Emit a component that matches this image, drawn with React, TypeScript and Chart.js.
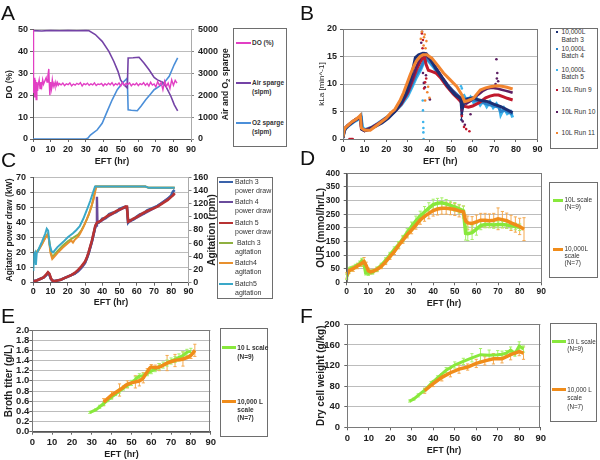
import React, { useEffect, useRef } from 'react';
import { Chart, registerables } from 'chart.js';

Chart.register(...registerables);

const FONT = '"Liberation Sans", Arial, Helvetica, sans-serif';
const INK = '#1e1e1e';
const GRID = '#bcbcbc';
Chart.defaults.font.family = FONT;

// ===================== DATA =====================
// Panel A: DO and sparge rates
const doTime = [0, 0.3, 0.6, 1, 1.4, 1.8, 2.2, 2.6, 3, 3.5, 4, 4.5, 5, 5.5, 6, 6.5, 7, 7.5, 8, 8.5, 9, 9.3, 9.6, 10, 10.5, 11, 11.5, 12, 12.5, 13, 13.5, 14, 14.5,
  15, 16, 17, 18, 19, 20, 21, 22, 23, 24, 25, 26, 27, 28, 29, 30, 31, 32, 33, 34, 35, 36, 37, 38, 39, 40, 41, 42, 43, 44, 45, 46, 47, 48, 49, 50,
  51, 52, 53, 54, 55, 56, 57, 58, 59, 60, 61, 62, 63, 64, 65, 66, 67, 68, 69, 70, 71, 72, 73, 74, 75, 76, 77, 78, 79, 80, 81, 82];
const doValues = [50, 21, 28, 19, 27, 18, 26, 22, 25, 27, 23, 26, 24, 27, 25, 26, 27, 28, 26, 29, 32, 25, 20, 26, 23, 27, 24, 25.5, 24, 26, 24.5, 25.8, 24.6,
  25.3, 24.7, 25.5, 24.4, 25.2, 24.8, 25.6, 24.3, 25.1, 24.6,
  25.4, 24.9, 25.7, 24.2, 25.3, 24.8, 25.5, 24.5, 25.2, 24.7,
  25.6, 24.4, 25.1, 24.9, 25.4, 24.3, 25.2, 24.6, 25.5, 24.8,
  25.7, 24.4, 25.3, 24.7, 25.6, 24.2, 25.8, 24.5, 25.4, 24.9,
  25.6, 24.3, 25.2, 24.7, 25.5, 24.4, 25.3, 24.8, 25.7, 24.5,
  25.4, 24.2, 25.9, 24.6, 25.1, 23.8, 26.2, 24.5, 25.8, 22.5,
  26.5, 24.0, 25.5, 23.0, 27.0, 24.5, 26.8, 25.5];
const airTime = [0, 5, 10, 15, 20, 25, 30, 31.7, 35.5, 39.4, 43.2, 46, 48.4, 49.9, 51.8, 53.7, 54.2, 57, 60.4, 63.2, 66.1, 69, 70.9, 73.8, 75.7, 78.6, 80.5, 82.4];
const airValues = [4950, 4930, 4960, 4940, 4960, 4940, 4960, 4950, 4770, 4460, 4000, 3550, 3090, 2700, 2480, 2330, 3700, 3710, 3730, 3470, 3160, 2810, 2700, 2600, 2400, 1940, 1560, 1280];
const o2Time = [0, 10, 20, 30, 31.2, 32.7, 34.5, 36.5, 39.4, 42.2, 45.1, 48, 50.8, 53.7, 54.2, 56, 59.4, 61.5, 64.2, 67, 69, 71.9, 74.7, 77.6, 80.4, 82.4];
const o2Values = [0, 0, 0, 0, 30, 180, 290, 410, 720, 1250, 1790, 2250, 2550, 2780, 1330, 1310, 1290, 1500, 1790, 2050, 2250, 2400, 2570, 2860, 3390, 3700];

// Panel B: kLa
const b3Time = [0, 0.5, 1, 2, 4, 6, 7.5, 8.2, 8.6, 10, 12, 15, 18, 21, 24, 27, 29, 31, 32.5, 33.5, 35, 37, 38.5, 40, 43, 46, 49, 52, 54.5, 55, 56, 58, 60, 62, 64, 67, 70, 73, 76, 78.5];
const b3Kla = [0.2, 1.2, 1.8, 2.4, 3.0, 3.6, 3.9, 4.0, 1.8, 1.5, 1.7, 2.3, 2.9, 3.8, 5.0, 6.6, 8.2, 10.6, 13.0, 14.8, 15.3, 15.6, 15.5, 14.8, 12.8, 11.0, 9.3, 8.0, 7.3, 5.0, 7.0, 7.3, 7.5, 7.2, 7.0, 6.8, 6.3, 5.9, 5.3, 4.8];
const b4Time = [0, 0.5, 1, 3, 5, 7, 8.3, 8.8, 10, 13, 16, 20, 24, 27, 30, 32, 34, 36, 37.5, 39, 42, 45, 48, 51, 54, 55.5, 58, 61, 64, 67, 70, 72, 73, 75, 77, 78.5];
const b4Kla = [0.3, 1.4, 1.9, 2.6, 3.2, 3.7, 4.3, 2.0, 1.6, 2.0, 2.7, 3.8, 5.1, 6.4, 8.3, 10.0, 11.8, 13.0, 14.3, 14.6, 13.2, 11.6, 10.0, 8.7, 7.6, 7.2, 7.4, 7.0, 6.7, 6.3, 6.0, 5.8, 5.0, 5.2, 4.8, 4.5];
const b5Time = [0, 0.5, 1, 3, 5, 7, 8.5, 9, 10, 13, 16, 20, 24, 27, 30, 32, 34, 36, 37.5, 39, 42, 45, 48, 51, 54, 56, 57.5, 59, 60.5, 62, 63.5, 65, 66.5, 68, 69.5, 71, 72.5, 73, 74.5, 76, 77.5, 78.5];
const b5Kla = [0.2, 1.3, 1.8, 2.5, 3.1, 3.5, 3.8, 2.2, 1.7, 2.1, 2.8, 3.9, 5.0, 6.2, 7.8, 9.5, 11.2, 12.6, 14.0, 14.4, 13.0, 11.4, 9.9, 8.6, 7.5, 7.9, 6.8, 7.6, 6.6, 7.3, 6.2, 7.0, 5.9, 6.8, 5.7, 6.4, 5.5, 4.4, 5.6, 4.6, 5.0, 3.9];
const r9Time = [0, 0.5, 1, 3, 5, 7, 8, 8.5, 10, 13, 16, 20, 24, 27, 30, 32, 34, 36, 37.5, 38.5, 39.5, 41, 43, 45, 48, 51, 53, 54.5, 55.5, 58, 60, 63, 66, 68, 70, 72, 74, 76, 78.5];
const r9Kla = [0.3, 1.5, 2.0, 2.7, 3.3, 3.8, 4.0, 1.9, 1.5, 2.0, 2.7, 3.8, 5.0, 6.4, 8.5, 10.5, 12.6, 14.2, 15.2, 13.5, 12.5, 12.3, 12.0, 11.2, 9.6, 8.2, 7.4, 6.8, 6.0, 5.8, 6.0, 6.6, 7.5, 7.8, 8.0, 8.0, 7.7, 7.4, 7.1];
const r10Time = [0, 0.5, 1, 3, 5, 7, 8, 8.5, 10, 13, 16, 20, 24, 27, 30, 32, 34, 36, 38, 40, 43, 46, 49, 52, 54.5, 55.5, 57, 59, 61, 63, 65, 67, 69, 71, 73, 75, 77, 78.5];
const r10Kla = [0.2, 1.4, 1.9, 2.6, 3.2, 3.7, 3.9, 1.8, 1.5, 2.0, 2.7, 3.8, 5.0, 6.5, 8.6, 10.8, 13.2, 15.0, 15.3, 14.6, 13.0, 11.2, 9.5, 8.2, 7.4, 6.5, 6.4, 6.9, 7.6, 8.2, 8.8, 9.2, 9.3, 9.2, 9.0, 8.8, 8.6, 8.4];
const r11Time = [0, 0.5, 1, 2, 4, 6, 7, 8, 8.5, 10, 12.6, 16, 20, 22, 24, 26.5, 28, 29.6, 31, 32.7, 34, 35.7, 37, 38.8, 41.1, 44, 46.5, 49.5, 52.7, 55, 56.3, 58, 60.4, 62, 63.5, 66, 68.1, 71.2, 73.5, 75.8, 78.5];
const r11Kla = [0.3, 1.6, 2.0, 2.4, 3.1, 3.6, 3.9, 4.3, 2.0, 1.6, 1.6, 2.6, 3.8, 4.7, 5.4, 7.1, 8.4, 10.1, 11.6, 13.2, 14.2, 15.0, 15.3, 15.3, 14.7, 13.3, 12.0, 10.8, 9.5, 8.0, 6.8, 7.0, 7.4, 8.2, 8.9, 9.3, 9.5, 9.7, 9.6, 9.4, 9.1];
// scattered outlier readings
const r11OutTime = [36, 36.5, 37, 37.3, 37.8, 38.2, 38.6, 39, 39.4, 40, 37.5, 38];
const r11OutKla = [18.2, 19.5, 20, 17, 19, 16.5, 17.8, 8.5, 9.5, 7.5, 18.5, 7];
const r9OutTime = [3, 3.5, 4, 4.5, 36.5, 37, 37.5, 38, 38.5, 55, 56, 57, 58.5, 36.8];
const r9OutKla = [0, 0, 0, 0, 19.2, 18, 9.2, 10.3, 11, 4.2, 2.2, 1.8, 1.4, 16.5];
const r10OutTime = [36.2, 37, 37.4, 37.9, 38.4, 40.2, 55, 55.4, 56.4, 59, 71, 71.4, 71.2, 71.8, 70.6, 36.6];
const r10OutKla = [17.5, 12, 10.2, 9.4, 11.6, 7.2, 5.2, 3.2, 2.6, 4.5, 14.5, 12, 11, 10.5, 10, 19.5];
const b5OutTime = [37, 37.1, 37.2, 37.3, 36.9, 54.6, 55, 37.2];
const b5OutKla = [5.2, 3.1, 1.2, 0, 7, 9.6, 9.2, 2.0];
const b3OutTime = [55, 55.3, 54.8];
const b3OutKla = [4.5, 6, 3.5];

// Panel C: agitator power draw (kW) and agitation (rpm)
const pow5Time = [0, 2, 4, 6, 7.5, 8.5, 9.3, 10.2, 11, 12, 14, 16, 18, 20, 22, 24, 26, 28, 30, 31, 32, 33, 34, 35, 36, 37, 38, 39, 40, 42, 44, 46, 48, 50, 52, 53.5, 54.3, 55, 56, 58, 60, 62, 64, 66, 68, 70, 72, 74, 76, 78, 80, 81, 82];
const pow5Values = [1, 1.5, 2.5, 3.5, 5.5, 7, 6, 3, 1.5, 1, 1.5, 2, 3, 4, 5, 6.5, 8.5, 11, 14, 16.5, 20, 24, 28, 33, 38, 40, 40.5, 41, 42, 43.5, 45, 46, 47.5, 48.5, 49.5, 50.5, 50.5, 40.5, 41, 42.5, 43.5, 45, 46.5, 47.5, 48.5, 49.5, 50.5, 52, 53.5, 55, 57, 58, 59.5];
const pow3Values = [1, 1.5, 2.5, 3.5, 5, 6.5, 5.5, 2.5, 1.5, 1, 1.5, 2, 3, 4, 5, 6, 8, 10.5, 13.5, 16, 19.5, 23.5, 27.5, 32.5, 37.5, 39.5, 40, 41, 42.5, 43, 45.5, 46.5, 47, 49, 50, 50.5, 50, 40, 41.5, 42, 44, 45.5, 46, 48, 49, 50, 51, 52.5, 54, 55.5, 58, 60.5, 61.5];
const pow4Time = [0, 2, 4, 6, 7.5, 8.5, 9.3, 10.2, 11, 12, 14, 16, 18, 20, 22, 24, 26, 28, 30, 32, 34, 35, 36, 36.7, 36.9, 37.2, 38, 40, 44, 48, 52, 54.3, 55, 58, 62, 66, 70, 74, 78, 82];
const pow4Values = [1, 1.5, 2.5, 3.5, 5, 6.5, 5.5, 2.5, 1.5, 1, 1.5, 2, 3, 4, 5, 6, 7.5, 10, 13, 19, 27, 32, 37, 38, 57, 40, 40, 41.5, 44.5, 47, 49.5, 50, 40, 42, 44.5, 47, 49.5, 52.5, 56, 59];
const agit5Time = [0, 0.5, 1, 1.5, 2, 2.5, 3, 5, 7, 7.8, 8.6, 9.5, 10.5, 11.5, 14, 17.4, 20, 23, 25, 27, 29, 31, 33, 35, 35.8, 40, 50, 60, 65, 67, 75, 82];
const agit5Values = [18, 44, 46, 27, 45, 47, 50, 62, 75, 82, 79, 58, 48, 46, 54, 62, 69, 75, 80, 86, 97, 110, 124, 140, 146, 146, 146, 146, 146, 144, 144, 144];
const agit4Time = [1, 2, 3, 5, 7, 8.3, 9, 10, 11, 12, 14, 17, 20, 22, 23, 24, 26, 27, 29, 31, 33, 35, 36.5, 45, 55, 65, 67, 75, 82];
const agit4Values = [44, 46, 49, 58, 68, 73, 66, 45, 36, 39, 45, 53, 60, 64, 61, 65, 70, 74, 84, 96, 110, 127, 146, 146, 146, 146, 144, 144, 144];
const agit3Time = [1, 2, 3, 5, 7, 8.3, 9, 10, 11, 12, 14, 17, 20, 23, 26, 28, 30, 32, 34, 36.3, 45, 55, 65, 67, 75, 82];
const agit3Values = [45, 47, 50, 59, 69, 74, 68, 48, 39, 42, 48, 56, 63, 68, 73, 80, 90, 102, 118, 146, 146, 146, 146, 144, 144, 144];

// Panel D: OUR
const ourBigTime = [0, 1, 3, 5, 7, 8, 9, 10, 11, 12, 14, 16, 18, 20, 22, 24, 26, 28, 30, 32, 34, 36, 38, 40, 42, 44, 46, 48, 50, 52, 54, 55, 56, 58, 60, 62, 64, 66, 68, 70, 72, 74, 76, 78, 80, 82];
const ourBigValues = [25, 42, 50, 60, 70, 76, 62, 42, 38, 40, 47, 58, 75, 94, 112, 135, 155, 175, 192, 210, 229, 242, 253, 263, 269, 272, 272, 270, 267, 262, 258, 225, 218, 216, 222, 228, 228, 226, 228, 233, 230, 226, 218, 212, 205, 195];
const ourBigErr = [10, 10, 10, 10, 12, 15, 12, 10, 8, 8, 8, 8, 10, 10, 10, 12, 12, 12, 14, 15, 16, 18, 20, 20, 22, 22, 22, 22, 22, 22, 22, 22, 25, 25, 25, 25, 25, 25, 25, 40, 30, 28, 28, 28, 30, 42];
const ourSmallTime = [0, 1, 2, 4, 6, 7, 8, 8.8, 10, 12, 14, 16, 18, 20, 22, 24, 26, 28, 30, 32, 34, 36, 38, 40, 42, 44, 46, 48, 50, 52, 54, 55, 56, 58, 60, 62, 64, 66, 68, 70, 72, 74, 76, 78, 80];
const ourSmallValues = [20, 45, 50, 58, 68, 78, 70, 35, 33, 38, 48, 62, 80, 100, 120, 138, 160, 183, 205, 225, 243, 258, 272, 285, 290, 292, 288, 282, 277, 270, 262, 180, 178, 182, 195, 208, 212, 212, 210, 212, 212, 210, 208, 205, 202];
const ourSmallErr = [10, 10, 8, 8, 10, 10, 10, 8, 8, 8, 8, 8, 10, 10, 10, 12, 12, 14, 16, 18, 18, 20, 20, 20, 18, 18, 16, 16, 16, 16, 18, 25, 25, 25, 22, 15, 12, 12, 12, 12, 12, 12, 12, 12, 12];

// Panel E: broth titer
const titerSmallTime = [29, 32, 34, 36, 38, 40, 42, 44, 46, 48, 50, 52, 54, 56, 58, 60, 62, 64, 66, 68, 70, 72, 74, 76, 78, 80];
const titerSmallValues = [0.38, 0.43, 0.49, 0.55, 0.62, 0.68, 0.74, 0.80, 0.86, 0.91, 0.96, 1.03, 1.09, 1.10, 1.15, 1.19, 1.23, 1.28, 1.31, 1.35, 1.39, 1.42, 1.46, 1.50, 1.56, 1.58];
const titerSmallErr = [0.02, 0.02, 0.03, 0.03, 0.03, 0.04, 0.03, 0.04, 0.04, 0.04, 0.05, 0.05, 0.05, 0.05, 0.05, 0.05, 0.05, 0.06, 0.06, 0.06, 0.06, 0.06, 0.07, 0.07, 0.06, 0.06];
const titerBigTime = [36, 40, 44, 48, 52, 54, 56, 58, 60, 62, 64, 68, 72, 76, 80, 82];
const titerBigValues = [0.58, 0.72, 0.82, 0.93, 0.98, 1.00, 1.06, 1.18, 1.27, 1.26, 1.27, 1.35, 1.40, 1.43, 1.50, 1.60];
const titerBigErr = [0.07, 0.07, 0.12, 0.07, 0.12, 0.10, 0.10, 0.06, 0.05, 0.05, 0.07, 0.15, 0.12, 0.14, 0.06, 0.12];

// Panel F: dry cell weight
const dcwSmallTime = [29, 31, 33, 36, 39, 42, 46, 50, 54, 58, 62, 66, 70, 72, 74, 76, 78, 80, 82];
const dcwSmallValues = [51, 55, 62, 72, 85, 96, 111, 121, 128, 135, 141, 140, 141, 142, 144, 150, 143, 158, 152];
const dcwSmallErr = [2, 2, 3, 3, 4, 4, 5, 6, 6, 8, 12, 10, 8, 6, 5, 6, 5, 8, 6];
const dcwBigTime = [36, 40, 44, 48, 52, 56, 60, 64, 68, 72, 76, 80, 82];
const dcwBigValues = [71, 85, 97, 106, 113, 117, 124, 129, 133, 133, 141, 147, 144];
const dcwBigErr = [5, 6, 7, 8, 8, 6, 8, 8, 10, 8, 10, 8, 12];

// ===================== COLOURS =====================
const C_DO = '#e23fc4', C_AIR = '#7443a6', C_O2 = '#4b8fd9';
const C_B3 = '#1c2f74', C_B4 = '#2a84cc', C_B5 = '#3cb4ec', C_R9 = '#c0192c', C_R10 = '#5c1e62', C_R11 = '#f28530';
const C_P3 = '#3a62aa', C_P4 = '#6a4c9c', C_P5 = '#b83232', C_A3 = '#8fb040', C_A4 = '#e8902e', C_A5 = '#3aa8c8';
const C_SMALL = '#88e83c', C_BIG = '#f08c1a', E_SMALL = '#a6f06a', E_BIG = '#f5a94e';

// ===================== HELPERS =====================
type Geo = { cx: number; cy: number; cw: number; ch: number; L: number; R: number; T: number; B: number };

const pts = (xs: number[], ys: number[]) => xs.map((x, i) => ({ x, y: ys[i] }));
const plain = (v: any) => String(Math.round(Number(v) * 1000) / 1000);

const line = (xs: number[], ys: number[], color: string, width: number, extra: any = {}) => ({
  data: pts(xs, ys), borderColor: color, backgroundColor: color, borderWidth: width,
  pointRadius: 0, fill: false, ...extra,
});
const dots = (xs: number[], ys: number[], color: string, r: number, extra: any = {}) => ({
  data: pts(xs, ys), showLine: false, pointRadius: r, pointBorderWidth: 0,
  pointBackgroundColor: color, borderColor: color, backgroundColor: color, ...extra,
});

function xAxis(g: Geo, tickSize: number, labelC: number, titleC: number) {
  const titleSize = 9;
  return {
    type: 'linear', position: 'bottom', min: 0, max: 90,
    ticks: {
      stepSize: 10, autoSkip: false, maxRotation: 0, color: INK, callback: plain,
      font: { family: FONT, size: tickSize, weight: 'bold' },
      padding: Math.max(0, labelC - g.B - 3 - tickSize * 0.6),
    },
    grid: { drawOnChartArea: false, drawTicks: true, tickLength: 3, tickColor: '#666' },
    border: { color: '#555' },
    title: {
      display: true, text: 'EFT (hr)', color: INK,
      font: { family: FONT, size: titleSize, weight: 'bold' },
      padding: { top: 0, bottom: Math.max(0, g.cy + g.ch - titleC - titleSize * 0.6) },
    },
    afterFit: (s: any) => { s.height = g.cy + g.ch - g.B; },
  };
}

function yAxis(g: Geo, o: any) {
  return {
    type: 'linear', position: 'left', min: o.min, max: o.max,
    ticks: {
      stepSize: o.step, autoSkip: false, color: INK, font: { family: FONT, size: o.tickSize, weight: 'bold' },
      padding: Math.max(0, g.L - o.labelRight - 3), callback: o.fmt || plain,
    },
    grid: { color: GRID, drawTicks: true, tickLength: 3, tickColor: '#666' },
    border: { color: '#555' },
    title: {
      display: true, text: o.text, color: INK,
      font: { family: FONT, size: o.titleSize, weight: o.weight || 'bold' },
      padding: { top: Math.max(0, o.titleC - g.cx - o.titleSize * 0.6), bottom: 0 },
    },
    afterFit: (s: any) => { s.width = g.L - g.cx; },
  };
}

function y2Axis(g: Geo, o: any) {
  return {
    type: 'linear', position: 'right', min: o.min, max: o.max,
    ticks: {
      stepSize: o.step, autoSkip: false, color: INK, font: { family: FONT, size: o.tickSize, weight: 'bold' },
      padding: Math.max(0, o.labelLeft - g.R - 3), callback: plain,
    },
    grid: { drawOnChartArea: false, drawTicks: true, tickLength: 3, tickColor: '#888' },
    border: { color: '#aaa' },
    afterFit: (s: any) => { s.width = g.cx + g.cw - g.R; },
  };
}

function options(g: Geo, scales: any, hasRight: boolean) {
  return {
    responsive: false, maintainAspectRatio: false, animation: false, devicePixelRatio: 1,
    layout: { padding: { left: 0, top: g.T - g.cy, right: hasRight ? 0 : g.cx + g.cw - g.R, bottom: 0 } },
    plugins: { legend: { display: false }, tooltip: { enabled: false }, title: { display: false } },
    elements: { point: { radius: 0 }, line: { tension: 0 } },
    scales,
  };
}

const framePlugin = {
  id: 'frame',
  afterDatasetsDraw(chart: any) {
    const { ctx, chartArea: a } = chart;
    ctx.save();
    ctx.strokeStyle = '#7a7a7a';
    ctx.lineWidth = 1;
    ctx.strokeRect(Math.round(a.left) + 0.5, Math.round(a.top) + 0.5, Math.round(a.right - a.left) - 1, Math.round(a.bottom - a.top));
    ctx.restore();
  },
};

const errorBarPlugin = {
  id: 'errbars',
  beforeDatasetsDraw(chart: any) {
    const { ctx } = chart;
    chart.data.datasets.forEach((ds: any, i: number) => {
      if (!ds.errors) return;
      const meta = chart.getDatasetMeta(i);
      const xs = chart.scales[meta.xAxisID];
      const ys = chart.scales[meta.yAxisID];
      ctx.save();
      ctx.strokeStyle = ds.errColor;
      ctx.lineWidth = 1;
      ds.data.forEach((p: any, j: number) => {
        const e = ds.errors[j];
        if (!e) return;
        const px = xs.getPixelForValue(p.x);
        const y1 = ys.getPixelForValue(p.y + e);
        const y2 = ys.getPixelForValue(p.y - e);
        ctx.beginPath();
        ctx.moveTo(px, y1); ctx.lineTo(px, y2);
        ctx.moveTo(px - 1.6, y1); ctx.lineTo(px + 1.6, y1);
        ctx.moveTo(px - 1.6, y2); ctx.lineTo(px + 1.6, y2);
        ctx.stroke();
      });
      ctx.restore();
    });
  },
};

function rotTitle(parts: { t: string; sub?: boolean }[], xCanvas: number, size: number) {
  return {
    id: 'rotTitle',
    afterDraw(chart: any) {
      const { ctx, chartArea } = chart;
      const cyy = (chartArea.top + chartArea.bottom) / 2;
      ctx.save();
      ctx.translate(xCanvas, cyy);
      ctx.rotate(-Math.PI / 2);
      ctx.fillStyle = INK;
      ctx.textBaseline = 'middle';
      ctx.textAlign = 'left';
      const fonts = parts.map((p) => `bold ${p.sub ? size * 0.7 : size}px ${FONT}`);
      let total = 0;
      parts.forEach((p, i) => { ctx.font = fonts[i]; total += ctx.measureText(p.t).width; });
      let x = -total / 2;
      parts.forEach((p, i) => {
        ctx.font = fonts[i];
        ctx.fillText(p.t, x, p.sub ? size * 0.3 : 0);
        x += ctx.measureText(p.t).width;
      });
      ctx.restore();
    },
  };
}

// ===================== PANEL GEOMETRY =====================
const gA: Geo = { cx: 0, cy: 0, cw: 232, ch: 170, L: 33, R: 191, T: 29.5, B: 139 };
const gB: Geo = { cx: 300, cy: 0, cw: 248, ch: 170, L: 343, R: 537.5, T: 29, B: 139 };
const gC: Geo = { cx: 0, cy: 150, cw: 217, ch: 160, L: 33.3, R: 188.5, T: 177.3, B: 282.7 };
const gD: Geo = { cx: 300, cy: 150, cw: 249, ch: 162, L: 346.7, R: 541.3, T: 173.3, B: 282.3 };
const gE: Geo = { cx: 0, cy: 310, cw: 220, ch: 150, L: 32.3, R: 210.7, T: 330, B: 431.7 };
const gF: Geo = { cx: 300, cy: 310, cw: 250, ch: 150, L: 347.3, R: 540.7, T: 324.3, B: 427.3 };

// ===================== CONFIGS =====================
function configA() {
  return {
    type: 'line',
    data: {
      datasets: [
        line(doTime, doValues, C_DO, 1.4, { yAxisID: 'y', order: 0 }),
        line(airTime, airValues, C_AIR, 1.6, { yAxisID: 'y2', order: 1 }),
        line(o2Time, o2Values, C_O2, 1.6, { yAxisID: 'y2', order: 2 }),
      ],
    },
    options: options(gA, {
      x: xAxis(gA, 9, 150, 161.5),
      y: yAxis(gA, { min: 0, max: 50, step: 10, text: 'DO (%)', titleSize: 8.5, titleC: 10, tickSize: 9, labelRight: 28 }),
      y2: y2Axis(gA, { min: 0, max: 5000, step: 1000, tickSize: 9, labelLeft: 198 }),
    }, true),
    plugins: [rotTitle([{ t: 'Air and O' }, { t: '2', sub: true }, { t: ' sparge' }], 226, 8.5)],
  };
}

function configB() {
  return {
    type: 'line',
    data: {
      datasets: [
        line(r11Time, r11Kla, C_R11, 3, { order: 0 }),
        line(b3Time, b3Kla, C_B3, 3, { order: 1 }),
        line(r10Time, r10Kla, C_R10, 2.5, { order: 2 }),
        line(r9Time, r9Kla, C_R9, 3, { order: 3 }),
        line(b4Time, b4Kla, C_B4, 3, { order: 4 }),
        line(b5Time, b5Kla, C_B5, 3, { order: 5 }),
        dots(r11OutTime, r11OutKla, C_R11, 1.3, { order: 0 }),
        dots(r9OutTime, r9OutKla, C_R9, 1.3, { order: 0 }),
        dots(r10OutTime, r10OutKla, C_R10, 1.3, { order: 0 }),
        dots(b5OutTime, b5OutKla, C_B5, 1.3, { order: 0 }),
        dots(b3OutTime, b3OutKla, C_B3, 1.3, { order: 0 }),
      ],
    },
    options: options(gB, {
      x: xAxis(gB, 9, 150, 161.5),
      y: yAxis(gB, { min: 0, max: 20, step: 5, text: 'kLa [min^-1]', titleSize: 8, weight: 'normal', titleC: 322, tickSize: 9, labelRight: 337 }),
    }, false),
    plugins: [framePlugin],
  };
}

function configC() {
  return {
    type: 'line',
    data: {
      datasets: [
        line(agit5Time, agit5Values, C_A5, 2, { yAxisID: 'y2', order: 0 }),
        line(pow5Time, pow5Values, C_P5, 2.6, { yAxisID: 'y', order: 1 }),
        line(agit4Time, agit4Values, C_A4, 2, { yAxisID: 'y2', order: 2 }),
        line(pow5Time, pow3Values, C_P3, 2.6, { yAxisID: 'y', order: 3 }),
        line(agit3Time, agit3Values, C_A3, 2, { yAxisID: 'y2', order: 4 }),
        line(pow4Time, pow4Values, C_P4, 2.4, { yAxisID: 'y', order: 5 }),
      ],
    },
    options: options(gC, {
      x: xAxis(gC, 9, 291.7, 303),
      y: yAxis(gC, { min: 0, max: 70, step: 10, text: 'Agitator power draw (kW)', titleSize: 8.5, titleC: 10, tickSize: 9, labelRight: 26 }),
      y2: y2Axis(gC, { min: 0, max: 160, step: 20, tickSize: 9, labelLeft: 193.3 }),
    }, true),
    plugins: [rotTitle([{ t: 'Agitation (rpm)' }], 212, 10)],
  };
}

function configD() {
  return {
    type: 'line',
    data: {
      datasets: [
        line(ourBigTime, ourBigValues, C_BIG, 3.5, { order: 0, errors: ourBigErr, errColor: E_BIG }),
        line(ourSmallTime, ourSmallValues, C_SMALL, 3.5, { order: 1, errors: ourSmallErr, errColor: E_SMALL }),
      ],
    },
    options: options(gD, {
      x: xAxis(gD, 8.5, 291.7, 304),
      y: yAxis(gD, { min: 0, max: 400, step: 50, text: 'OUR (mmol/hr/L)', titleSize: 10, titleC: 321, tickSize: 8.5, labelRight: 340 }),
    }, false),
    plugins: [errorBarPlugin, framePlugin],
  };
}

function configE() {
  return {
    type: 'line',
    data: {
      datasets: [
        line(titerBigTime, titerBigValues, C_BIG, 3.5, { order: 0, errors: titerBigErr, errColor: E_BIG, cubicInterpolationMode: 'monotone' }),
        line(titerSmallTime, titerSmallValues, C_SMALL, 3, { order: 1, errors: titerSmallErr, errColor: E_SMALL, cubicInterpolationMode: 'monotone' }),
      ],
    },
    options: options(gE, {
      x: xAxis(gE, 9.5, 442.3, 455),
      y: yAxis(gE, { min: 0, max: 2, step: 0.2, text: 'Broth titer (g/L)', titleSize: 10, titleC: 9.5, tickSize: 9.5, labelRight: 29.5, fmt: (v: any) => Number(v).toFixed(1) }),
    }, false),
    plugins: [errorBarPlugin, framePlugin],
  };
}

function configF() {
  return {
    type: 'line',
    data: {
      datasets: [
        line(dcwBigTime, dcwBigValues, C_BIG, 3.5, { order: 0, errors: dcwBigErr, errColor: E_BIG }),
        line(dcwSmallTime, dcwSmallValues, C_SMALL, 3, { order: 1, errors: dcwSmallErr, errColor: E_SMALL }),
      ],
    },
    options: options(gF, {
      x: xAxis(gF, 9.5, 438.3, 451),
      y: yAxis(gF, { min: 0, max: 200, step: 40, text: 'Dry cell weight (g/kg)', titleSize: 10, titleC: 321, tickSize: 9.5, labelRight: 340 }),
    }, false),
    plugins: [errorBarPlugin, framePlugin],
  };
}

// ===================== COMPONENTS =====================
function ChartCanvas({ g, make }: { g: Geo; make: () => any }) {
  const ref = useRef<HTMLCanvasElement>(null);
  useEffect(() => {
    const chart = new Chart(ref.current as HTMLCanvasElement, make());
    return () => chart.destroy();
  }, []);
  return (
    <canvas ref={ref} width={g.cw} height={g.ch}
      style={{ position: 'absolute', left: g.cx, top: g.cy, width: g.cw, height: g.ch }} />
  );
}

type LegItem = { lines: string[]; color: string; y: number; lh?: number };
type LegSpec = {
  box: [number, number, number, number]; kind: 'line' | 'dot'; sx: [number, number]; tx: number;
  size: number; weight: string; lh: number; lw: number; items: LegItem[];
};

function Legend({ spec }: { spec: LegSpec }) {
  const [bx, by, bw, bh] = spec.box;
  const els: any[] = [];
  spec.items.forEach((it, i) => {
    if (spec.kind === 'line') {
      els.push(<div key={'s' + i} style={{ position: 'absolute', left: spec.sx[0], top: it.y - spec.lw / 2, width: spec.sx[1] - spec.sx[0], height: spec.lw, background: it.color }} />);
    } else {
      els.push(<div key={'s' + i} style={{ position: 'absolute', left: spec.sx[0] - 1, top: it.y - 1, width: 2.2, height: 2.2, background: it.color }} />);
    }
    const lh = it.lh || spec.lh;
    it.lines.forEach((t, k) => {
      els.push(
        <div key={'t' + i + '_' + k} style={{
          position: 'absolute', left: spec.tx, top: it.y + k * lh - spec.size * 0.6,
          height: spec.size * 1.2, lineHeight: spec.size * 1.2 + 'px', fontSize: spec.size,
          fontWeight: spec.weight as any, fontFamily: FONT, color: '#333', whiteSpace: 'pre',
        }}>{t}</div>
      );
    });
  });
  return (
    <>
      <div style={{ position: 'absolute', left: bx, top: by, width: bw, height: bh, border: '1px solid #6e6e6e', boxSizing: 'border-box' }} />
      {els}
    </>
  );
}

const legendA: LegSpec = {
  box: [233, 28, 54, 119], kind: 'line', sx: [236, 251], tx: 252, size: 6.5, weight: 'bold', lh: 9, lw: 2,
  items: [
    { lines: ['DO (%)'], color: C_DO, y: 43 },
    { lines: ['Air sparge', '(slpm)'], color: C_AIR, y: 83 },
    { lines: ['O2 sparge', '(slpm)'], color: C_O2, y: 123 },
  ],
};
const legendB: LegSpec = {
  box: [550, 28, 48, 121], kind: 'dot', sx: [557, 557], tx: 561.5, size: 6.6, weight: 'normal', lh: 7.4, lw: 2,
  items: [
    { lines: ['10,000L', 'Batch 3'], color: C_B3, y: 32.3 },
    { lines: ['10,000L', 'Batch 4'], color: C_B4, y: 49 },
    { lines: ['10,000L', 'Batch 5'], color: C_B5, y: 70 },
    { lines: ['10L Run 9'], color: C_R9, y: 90 },
    { lines: ['10L Run 10'], color: C_R10, y: 112 },
    { lines: ['10L Run 11'], color: C_R11, y: 132.7 },
  ],
};
const legendC: LegSpec = {
  box: [217, 177, 56, 122], kind: 'line', sx: [219, 233], tx: 235, size: 7, weight: 'normal', lh: 9, lw: 2,
  items: [
    { lines: ['Batch 3', 'power draw'], color: C_P3, y: 182.3 },
    { lines: ['Batch 4', 'power draw'], color: C_P4, y: 202.3 },
    { lines: ['Batch 5', 'power draw'], color: C_P5, y: 222.7 },
    { lines: [' Batch 3', 'agitation'], color: C_A3, y: 243.3 },
    { lines: ['Batch4', 'agitation'], color: C_A4, y: 263.3 },
    { lines: ['Batch5', 'agitation'], color: C_A5, y: 284.3 },
  ],
};
const legendD: LegSpec = {
  box: [549, 182, 49, 96], kind: 'line', sx: [552.5, 563], tx: 564.5, size: 6.5, weight: 'normal', lh: 6.7, lw: 3,
  items: [
    { lines: ['10L scale', '(N=9)'], color: C_SMALL, y: 200 },
    { lines: ['10,000L', 'scale', '(N=7)'], color: C_BIG, y: 249 },
  ],
};
const legendE: LegSpec = {
  box: [220, 328, 48, 109], kind: 'line', sx: [222, 236], tx: 237.3, size: 6.5, weight: 'bold', lh: 8.6, lw: 3,
  items: [
    { lines: ['10 L scale', '(N=9)'], color: C_SMALL, y: 347.7, lh: 9 },
    { lines: ['10,000 L', 'scale', '(N=7)'], color: C_BIG, y: 401.7, lh: 8.3 },
  ],
};
const legendF: LegSpec = {
  box: [550, 323, 47, 99], kind: 'line', sx: [552, 566], tx: 567.3, size: 6.3, weight: 'normal', lh: 8, lw: 3,
  items: [
    { lines: ['10 L scale', '(N=9)'], color: C_SMALL, y: 341.7, lh: 6.7 },
    { lines: ['10,000 L', 'scale', '(N=7)'], color: C_BIG, y: 389.3, lh: 8.7 },
  ],
};

const letters: [string, number, number][] = [
  ['A', 1, 2], ['B', 300, 2], ['C', 1, 149], ['D', 300, 147], ['E', 1, 305], ['F', 300, 305],
];

export default function App() {
  return (
    <div style={{ position: 'absolute', left: 0, top: 0, width: 600, height: 460, background: '#fff', overflow: 'hidden' }}>
      <ChartCanvas g={gA} make={configA} />
      <ChartCanvas g={gB} make={configB} />
      <ChartCanvas g={gC} make={configC} />
      <ChartCanvas g={gD} make={configD} />
      <ChartCanvas g={gE} make={configE} />
      <ChartCanvas g={gF} make={configF} />
      <Legend spec={legendA} />
      <Legend spec={legendB} />
      <Legend spec={legendC} />
      <Legend spec={legendD} />
      <Legend spec={legendE} />
      <Legend spec={legendF} />
      {letters.map(([t, x, y]) => (
        <div key={t} style={{ position: 'absolute', left: x, top: y, fontSize: 21, lineHeight: '21px', fontFamily: FONT, color: '#111' }}>{t}</div>
      ))}
    </div>
  );
}
